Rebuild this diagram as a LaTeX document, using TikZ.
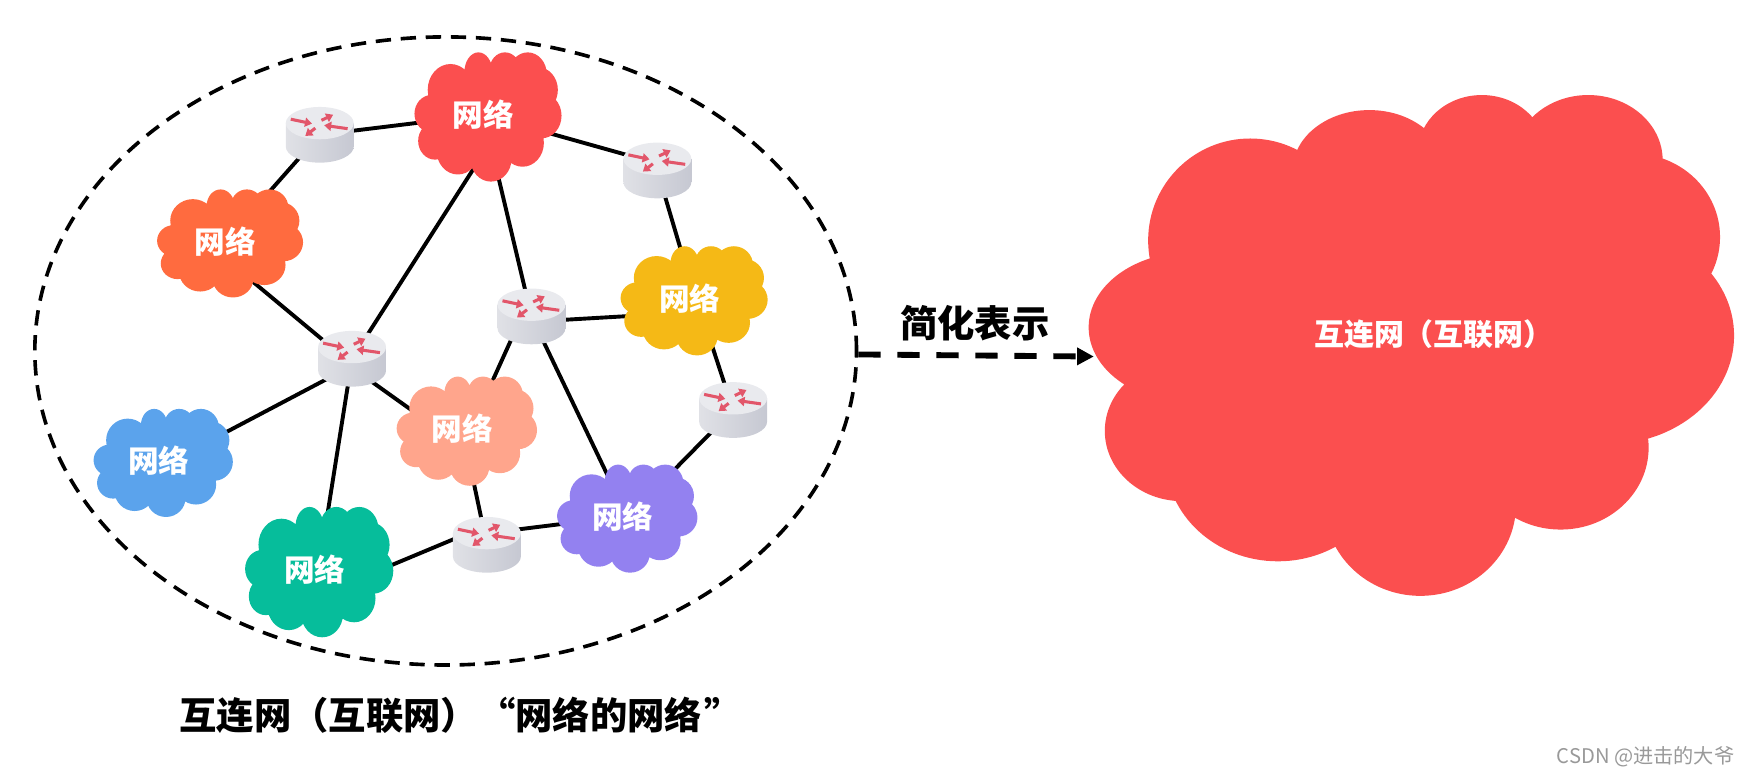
\documentclass[tikz,border=0pt]{standalone}
\usepackage{fontspec}
\setmainfont{Noto Sans CJK SC}
\usepackage{tikz}
\usetikzlibrary{arrows.meta,shapes.geometric,backgrounds}

\definecolor{netred}{HTML}{FB4F4F}
\definecolor{netorange}{HTML}{FF6B3F}
\definecolor{netyellow}{HTML}{F5B916}
\definecolor{netsalmon}{HTML}{FFA58C}
\definecolor{netblue}{HTML}{5BA3EC}
\definecolor{netgreen}{HTML}{06BD9B}
\definecolor{netpurple}{HTML}{9381F0}
\definecolor{routertop}{HTML}{E9EAEE}
\definecolor{routerleft}{HTML}{E0E1E6}
\definecolor{routerright}{HTML}{C6C8D2}
\definecolor{routerarrow}{HTML}{E2566A}

% name, colour, width, height, position
\newcommand{\netcloud}[5]{
  \begin{scope}[shift={(#5)}, xshift=3.2pt, yshift=-1.6pt, x=#3*0.4pt, y=-#4*0.4pt]
    \fill[#2] (0,0) ellipse[x radius=.7, y radius=.7]
      (-.51,-.42) ellipse[x radius=.31, y radius=.40]
      (-.13,-.70) ellipse[x radius=.19, y radius=.30]
      (.23,-.73) ellipse[x radius=.21, y radius=.27]
      (.54,-.66) ellipse[x radius=.26, y radius=.34]
      (.68,-.42) ellipse[x radius=.27, y radius=.35]
      (.73,-.02) ellipse[x radius=.27, y radius=.35]
      (.47,.40) ellipse[x radius=.29, y radius=.37]
      (.04,.65) ellipse[x radius=.28, y radius=.35]
      (-.41,.52) ellipse[x radius=.29, y radius=.37]
      (-.72,.37) ellipse[x radius=.23, y radius=.29]
      (-.77,-.05) ellipse[x radius=.23, y radius=.29];
  \end{scope}
  \node[network] (#1) at (#5) {网络};
}

\begin{document}
\begin{tikzpicture}[
  x=0.8pt, y=-0.8pt,
  network/.style={inner sep=0pt, text=white, font=\fontsize{22}{22}\selectfont\bfseries},
  link/.style={line width=2.8pt},
  heading/.style={font=\fontsize{26.8}{27}\selectfont\bfseries},
  routerbody/.style={left color=routerleft, right color=routerright, draw=none},
  routerhead/.style={-{Triangle[length=5pt,width=6.5pt]}, routerarrow, line width=2.2pt},
  router/.style={rectangle, inner sep=0pt, minimum width=49pt, minimum height=41pt, path picture={
    \begin{scope}[shift={(path picture bounding box.center)}]
      \path[routerbody] (-30.5,-10.5) -- (-30.5,10.5) arc[start angle=180, end angle=360, x radius=30.5, y radius=-14.5] -- (30.5,-10.5) -- cycle;
      \fill[routertop] (0,-10.5) ellipse[x radius=30.5, y radius=14.5];
      \draw[routerhead] (-26,-14) -- (-7,-10);
      \draw[routerhead] (1.5,-13) -- (12,-18);
      \draw[routerhead] (-4,-6) -- (-13,1);
      \draw[routerhead] (25,-5.5) -- (4,-8.5);
    \end{scope}}}
]

\useasboundingbox (0,0) rectangle (1568,696);

% Big cloud on the right
\fill[netred] (1267,308.8) ellipse[x radius=229, y radius=165]
  (1122.1,215.8) ellipse[x radius=91.6, y radius=91.5]
  (1229,152.8) ellipse[x radius=68.7, y radius=54]
  (1330,136.3) ellipse[x radius=57.2, y radius=51]
  (1425.5,143.8) ellipse[x radius=66.8, y radius=58.5]
  (1465.6,212.8) ellipse[x radius=78.2, y radius=75]
  (1442.7,301.3) ellipse[x radius=113.7, y radius=97.5]
  (1400.7,401.8) ellipse[x radius=79, y radius=73.5]
  (1274.8,452.8) ellipse[x radius=85.9, y radius=82]
  (1147,410.8) ellipse[x radius=101, y radius=93]
  (1061.1,386.8) ellipse[x radius=69.5, y radius=63]
  (1068.7,293.8) ellipse[x radius=91.6, y radius=67.5];
\node[inner sep=0pt, minimum width=488pt, text=white, font=\fontsize{21.5}{22}\selectfont\bfseries] (bignet) at (1287,300) {互连网（互联网）};

% Dashed boundary of the internet
\node[ellipse, draw, dash pattern=on 11pt off 7pt, line width=2.6pt, inner sep=0pt, minimum width=590pt, minimum height=451pt] (internet) at (400,315) {};

% Small networks
\netcloud{netA}{netred}{132}{116}{434,103}
\netcloud{netB}{netorange}{131}{97}{202.5,216.5}
\netcloud{netC}{netyellow}{132}{98}{619,268}
\netcloud{netD}{netsalmon}{126}{98}{415,385}
\netcloud{netE}{netblue}{125}{97}{142.5,413.5}
\netcloud{netF}{netgreen}{133}{117}{282.5,511.5}
\netcloud{netG}{netpurple}{126}{97}{559,463.5}

% Routers
\node[router] (router1) at (287,121) {};
\node[router] (router2) at (590,153) {};
\node[router] (router3) at (477,284) {};
\node[router] (router4) at (316,322) {};
\node[router] (router5) at (658,368) {};
\node[router] (router6) at (437,489) {};

% Links go behind the clouds and routers
\begin{pgfonlayer}{background}
\draw[link] (router1.center) -- (netA.center);
\draw[link] (router1.center) -- (netB.center);
\draw[link] (netA.center) -- ([yshift=5pt]router2.center);
\draw[link] (router2.center) -- ([xshift=4pt]netC.center);
\draw[link] (netA.center) -- (router3.center);
\draw[link] ([xshift=17.6pt]netA.center) -- (router4.center);
\draw[link] ([yshift=-3.8pt]router3.center) -- ([yshift=-10pt]netC.center);
\draw[link] ([xshift=-7pt]router3.center) -- ([xshift=6pt]netD.center);
\draw[link] (router3.center) -- ([xshift=3.2pt]netG.center);
\draw[link] ([xshift=5pt]netC.center) -- (router5.center);
\draw[link] (router5.center) -- ([xshift=4pt]netG.center);
\draw[link] ([yshift=-4pt]router4.center) -- ([yshift=-12.8pt]netB.center);
\draw[link] ([yshift=-6.4pt]router4.center) -- ([yshift=-12.5pt]netD.center);
\draw[link] ([yshift=-5pt]router4.center) -- ([yshift=-5pt]netE.center);
\draw[link] (router4.center) -- ([xshift=2.8pt]netF.center);
\draw[link] (netD.center) -- (router6.center);
\draw[link] ([yshift=8.3pt]router6.center) -- (netG.center);
\draw[link] ([yshift=14pt]router6.center) -- ([yshift=-19.6pt]netF.center);
\end{pgfonlayer}

% Simplification arrow
\draw[-{Triangle[length=12pt,width=12pt]}, dash pattern=on 16pt off 12pt, line width=4.2pt] ([yshift=-2.5pt]internet.east) -- ([yshift=-16pt]bignet.west);
\node[heading] (simple) at (875,290) {简化表示};

% Captions
\node[heading, anchor=west, inner sep=0pt] (caption) at (161,642) {互连网（互联网）“网络的网络\hspace{2pt}”};
\node[text=black!40, font=\fontsize{14.5}{15}\selectfont] (mark) at (1477,679) {CSDN @进击的大爷};

\end{tikzpicture}
\end{document}
